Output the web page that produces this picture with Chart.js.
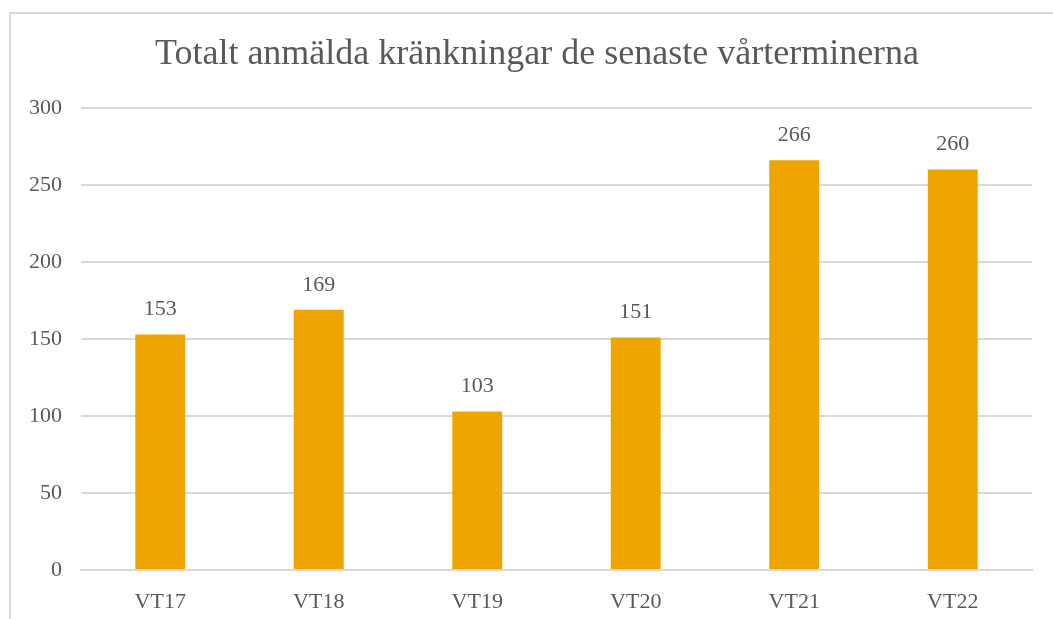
<!DOCTYPE html>
<html>
<head>
<meta charset="utf-8">
<script src="https://cdn.jsdelivr.net/npm/chart.js@4"></script>
<style>
  body { margin: 0; background: #fff; }
  #frame {
    position: absolute; left: 9px; top: 12px; width: 1100px; height: 700px;
    border-top: 2px solid #d9d9d9; border-left: 2px solid #d9d9d9;
  }
  #wrap { position: absolute; left: 0; top: 0; width: 1053px; height: 619px; }
</style>
</head>
<body>
<div id="frame"></div>
<div id="wrap"><canvas id="chart"></canvas></div>
<script>
// Data
const terms = ['VT17', 'VT18', 'VT19', 'VT20', 'VT21', 'VT22'];
const reports = [153, 169, 103, 151, 266, 260];
const yTicks = [0, 50, 100, 150, 200, 250, 300];
const chartTitle = 'Totalt anmälda kränkningar de senaste vårterminerna';

const textColor = '#595959';
const serif = '"Liberation Serif", "DejaVu Serif", serif';

// title centred over the whole frame, not only the plot
const frameTitle = {
  id: 'frameTitle',
  afterDraw(chart) {
    const ctx = chart.ctx;
    ctx.save();
    ctx.font = '36px ' + serif;
    ctx.fillStyle = textColor;
    ctx.textAlign = 'center';
    ctx.textBaseline = 'middle';
    ctx.fillText(chartTitle, 537, 55);
    ctx.restore();
  }
};

// draws the number above each bar
const valueLabels = {
  id: 'valueLabels',
  afterDatasetsDraw(chart) {
    const ctx = chart.ctx;
    const meta = chart.getDatasetMeta(0);
    ctx.save();
    ctx.font = '22px ' + serif;
    ctx.fillStyle = textColor;
    ctx.textAlign = 'center';
    ctx.textBaseline = 'bottom';
    meta.data.forEach((bar, i) => {
      ctx.fillText(reports[i], bar.x, bar.y - 14);
    });
    ctx.restore();
  }
};

new Chart(document.getElementById('chart'), {
  type: 'bar',
  data: {
    labels: terms,
    datasets: [{
      data: reports,
      backgroundColor: '#EEA500',
      categoryPercentage: 1,
      barPercentage: 0.315
    }]
  },
  options: {
    responsive: true,
    maintainAspectRatio: false,
    animation: false,
    layout: { padding: { left: 0, right: 21, top: 108, bottom: 0 } },
    plugins: {
      legend: { display: false },
      tooltip: { enabled: false },
      title: { display: false }
    },
    scales: {
      x: {
        grid: { display: false },
        border: { color: '#d9d9d9', width: 2 },
        ticks: { color: textColor, font: { family: serif, size: 22 }, padding: 11 },
        afterFit(scale) { scale.height = 49; }
      },
      y: {
        min: 0, max: 300,
        afterBuildTicks(scale) { scale.ticks = yTicks.map(v => ({ value: v })); },
        grid: { color: '#d9d9d9', lineWidth: 2, drawTicks: false },
        border: { display: false },
        ticks: { color: textColor, font: { family: serif, size: 22 }, padding: 19 },
        afterFit(scale) { scale.width = 81; }
      }
    }
  },
  plugins: [valueLabels, frameTitle]
});
</script>
</body>
</html>
